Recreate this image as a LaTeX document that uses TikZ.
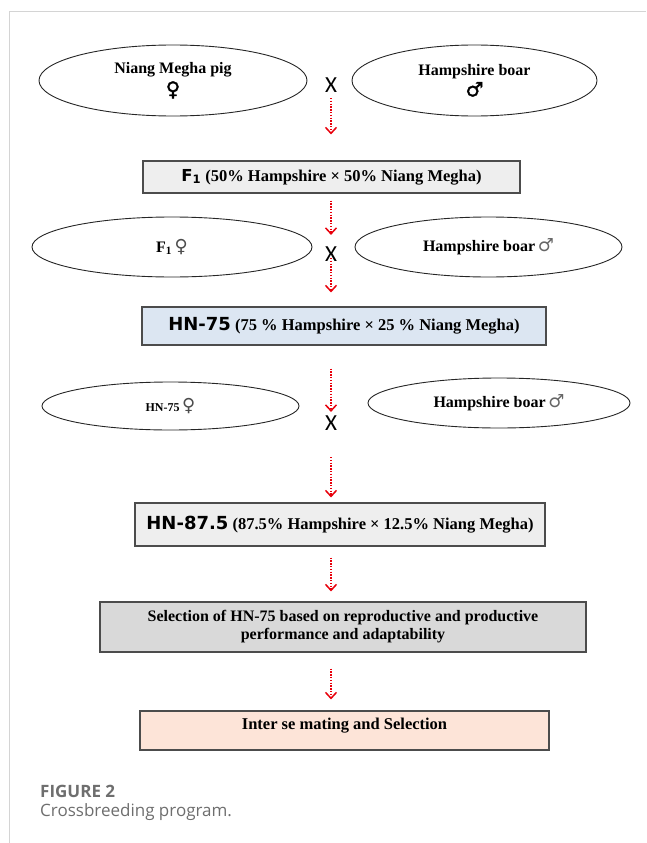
\documentclass[tikz,border=0pt]{standalone}
\usepackage{fontspec}
\setmainfont{Liberation Serif}
\setsansfont{DejaVu Sans}
\newfontfamily\capfont{Open Sans}
\newfontfamily\crossfont{Carlito}
\newfontfamily\sexfont{DejaVu Sans}
\newfontfamily\sexheavy[FakeBold=1.5]{DejaVu Sans}
\usetikzlibrary{shapes.geometric,arrows.meta}
\definecolor{framegray}{HTML}{D4D4D4}
\definecolor{boxgray}{HTML}{EEEEEE}
\definecolor{boxblue}{HTML}{DCE6F2}
\definecolor{boxdark}{HTML}{D9D9D9}
\definecolor{boxpeach}{HTML}{FDE4D8}
\definecolor{capgray}{HTML}{6E6E6E}
\definecolor{flowred}{HTML}{E8000B}
\begin{document}
\begin{tikzpicture}[x=1pt,y=-1pt,
    parent/.style={ellipse,draw=black!85,line width=0.9pt,inner sep=0pt,align=center,
      font=\bfseries\fontsize{16}{18}\selectfont},
    stagebox/.style={rectangle,draw=black!70,line width=1.1pt,inner sep=0pt,align=center,
      font=\bfseries\fontsize{16.5}{18}\selectfont},
    cross/.style={inner sep=0pt,font=\crossfont\fontsize{23}{23}\selectfont},
    flow/.style={draw=flowred,line width=1.5pt,dash pattern=on 1.4pt off 1.4pt,
      -{Straight Barb[length=6pt,width=11pt,line width=1.5pt]}}]
  \useasboundingbox (0,0) rectangle (646,843);
  \draw[framegray,line width=1pt] (9,843) -- (9,12) -- (646,12);
  % first cross
  \node[parent,minimum width=268pt,minimum height=71pt] (sow1) at (173,80.5)
    {Niang Megha pig\\[3pt]{\sexheavy\mdseries\fontsize{20}{20}\selectfont ♀}};
  \node[cross] (x1) at (331,85.5) {X};
  \node[parent,minimum width=245pt,minimum height=71pt] (boar1) at (474.5,80.5)
    {Hampshire boar\\[3pt]{\sexheavy\mdseries\fontsize{20}{20}\selectfont ♂}};
  \node[stagebox,fill=boxgray,minimum width=377pt,minimum height=32pt] (f1) at (331.5,177)
    {{\sffamily F\textsubscript{1}} (50\% Hampshire × 50\% Niang Megha)};
  \draw[flow,shorten <=5pt,shorten >=26pt] (x1.south) -- (x1 |- f1.north);
  % second cross
  \node[parent,minimum width=280pt,minimum height=60pt] (sow2) at (172,247)
    {F\textsubscript{1}\,{\sexfont\mdseries\color{black!70}\fontsize{18}{18}\selectfont ♀}};
  \node[cross] (x2) at (331,254.5) {X};
  \node[parent,minimum width=267pt,minimum height=60pt] (boar2) at (488.5,247)
    {Hampshire boar\,{\sexfont\mdseries\color{black!60}\fontsize{18}{18}\selectfont ♂}};
  \draw[flow,shorten <=7pt,shorten >=12pt] (x2 |- f1.south) -- (x2.north);
  \node[stagebox,fill=boxblue,minimum width=404pt,minimum height=38pt] (hn75) at (344,326)
    {{\sffamily\fontsize{18}{18}\selectfont HN-75} (75 \% Hampshire × 25 \% Niang Megha)};
  \draw[flow,shorten <=-4pt,shorten >=14pt] (x2.south) -- (x2 |- hn75.north);
  % third cross
  \node[parent,minimum width=257pt,minimum height=48pt] (sow3) at (170.5,406)
    {{\fontsize{12}{12}\selectfont HN-75}\,{\sexfont\mdseries\color{black!70}\fontsize{18}{18}\selectfont ♀}};
  \node[cross] (x3) at (331,423.5) {X};
  \node[parent,minimum width=262pt,minimum height=50pt] (boar3) at (499,403)
    {Hampshire boar\,{\sexfont\mdseries\color{black!60}\fontsize{18}{18}\selectfont ♂}};
  \draw[flow,shorten <=23pt,shorten >=4pt] (x3 |- hn75.south) -- (x3.north);
  \node[stagebox,fill=boxgray,minimum width=410pt,minimum height=43pt] (hn875) at (340,524.5)
    {{\sffamily\fontsize{18}{18}\selectfont HN-87.5} (87.5\% Hampshire × 12.5\% Niang Megha)};
  \draw[flow,shorten <=26pt,shorten >=5pt] (x3.south) -- (x3 |- hn875.north);
  % selection
  \node[stagebox,fill=boxdark,minimum width=486pt,minimum height=50pt,
    font=\bfseries\fontsize{16}{18}\selectfont] (select) at (343,627)
    {Selection of HN-75 based on reproductive and productive\\performance and adaptability};
  \draw[flow,shorten <=11pt,shorten >=10pt] (hn875.south -| x3) -- (select.north -| x3);
  \node[stagebox,fill=boxpeach,minimum width=409pt,minimum height=39pt,
    text height=12pt,text depth=14pt] (inter) at (344.5,730.5) {Inter se mating and Selection};
  \draw[flow,shorten <=16pt,shorten >=11pt] (select.south -| x3) -- (inter.north -| x3);
  % caption
  \node[anchor=base west,inner sep=0pt,text=capgray,font=\capfont\bfseries\fontsize{17}{20}\selectfont]
    (figlabel) at (40,797) {FIGURE 2};
  \node[anchor=base west,inner sep=0pt,text=capgray,font=\capfont\fontsize{17}{20}\selectfont]
    (figtitle) at (40,816) {Crossbreeding program.};
\end{tikzpicture}
\end{document}
